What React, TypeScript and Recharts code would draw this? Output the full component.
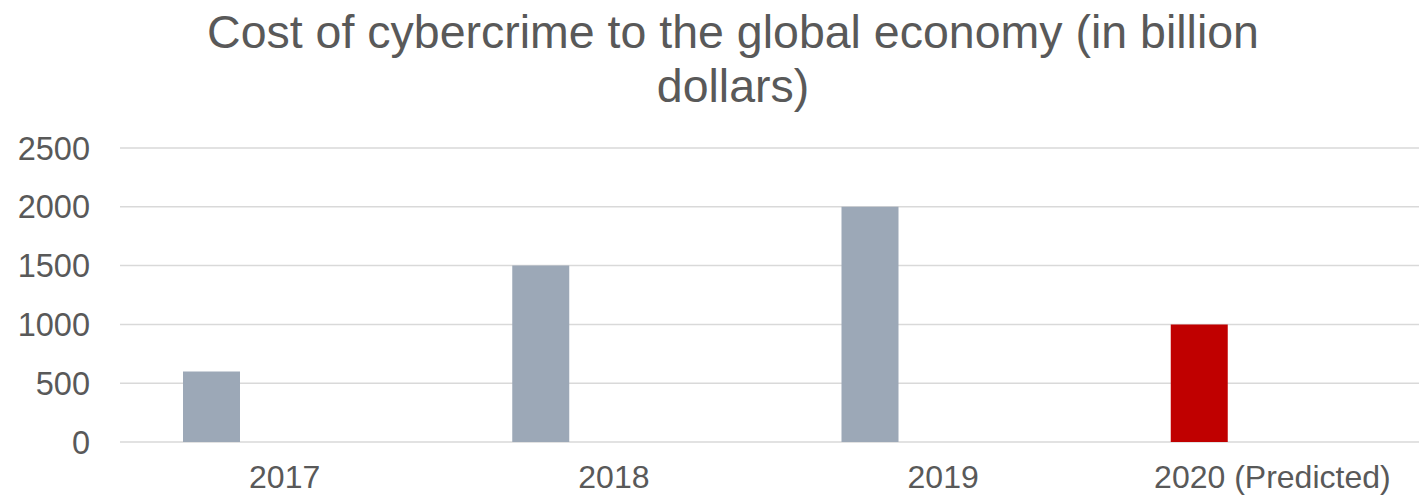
import React from 'react';
import { BarChart, Bar, XAxis, YAxis, CartesianGrid, Cell } from 'recharts';

const categories = ['2017', '2018', '2019', '2020 (Predicted)'];
const costValues = [600, 1500, 2000, 1000];
const spacerValues: (number | null)[] = [null, null, null, null];
const barColors = ['#9CA8B7', '#9CA8B7', '#9CA8B7', '#C00000'];
const yTicks = [0, 500, 1000, 1500, 2000, 2500];
const titleLines = ['Cost of cybercrime to the global economy (in billion', 'dollars)'];

const data = categories.map((c, i) => ({ category: c, cost: costValues[i], spacer: spacerValues[i] }));

const FONT = '"Liberation Sans", Arial, sans-serif';

export default function App() {
  return (
    <div
      style={{
        position: 'relative',
        width: 1427,
        height: 497,
        marginLeft: -8,
        marginTop: -8,
        overflow: 'hidden',
        background: '#ffffff',
        fontFamily: FONT,
      }}
    >
      <div
        style={{
          position: 'absolute',
          left: 0,
          top: 5,
          width: 1466,
          textAlign: 'center',
          fontSize: 46.5,
          lineHeight: '54px',
          color: '#595959',
        }}
      >
        {titleLines.map((t) => (
          <div key={t}>{t}</div>
        ))}
      </div>
      <div style={{ position: 'absolute', left: 0, top: 0 }}>
        <BarChart
          width={1440}
          height={497}
          data={data}
          margin={{ top: 148, right: 3, bottom: 5, left: 0 }}
          barGap={89}
          barSize={57}
        >
          <CartesianGrid vertical={false} stroke="#D9D9D9" strokeWidth={1.5} />
          <YAxis
            width={120}
            domain={[0, 2500]}
            ticks={yTicks}
            axisLine={false}
            tickLine={false}
            tickSize={0}
            tickMargin={30}
            tick={{ fill: '#595959', fontSize: 32.5, fontFamily: FONT }}
          />
          <XAxis
            dataKey="category"
            height={50}
            axisLine={false}
            tickLine={false}
            tickSize={0}
            tickMargin={23}
            interval={0}
            tick={{ fill: '#595959', fontSize: 32, fontFamily: FONT }}
          />
          <Bar dataKey="cost" isAnimationActive={false}>
            {data.map((d, i) => (
              <Cell key={d.category} fill={barColors[i]} />
            ))}
          </Bar>
          <Bar dataKey="spacer" fill="transparent" isAnimationActive={false} />
        </BarChart>
      </div>
    </div>
  );
}
